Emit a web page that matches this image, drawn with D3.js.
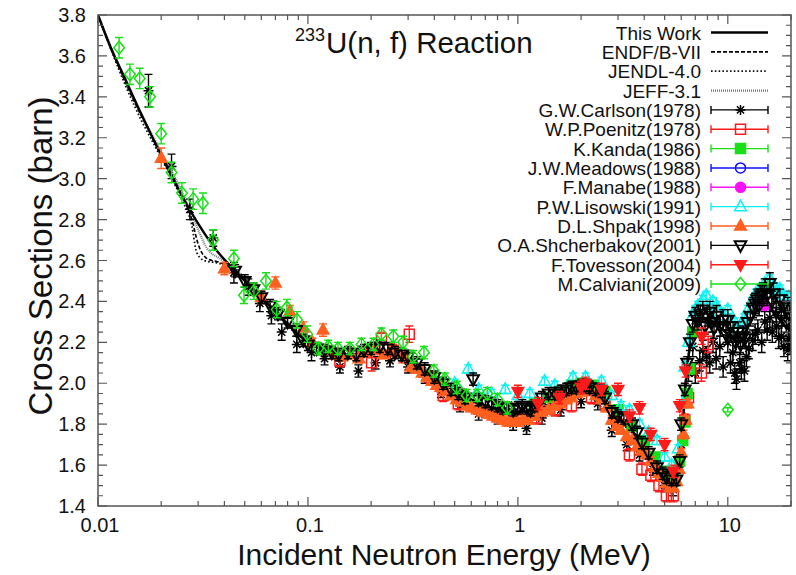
<!DOCTYPE html>
<html>
<head>
<meta charset="utf-8">
<script src="https://cdn.jsdelivr.net/npm/d3@7"></script>
<style>
    body { margin: 0; background: #fff; }
    text { font-family: "Liberation Sans", Arial, sans-serif; fill: #111; }
</style>
</head>
<body>
<svg id="chart" width="796" height="575"></svg>
<script>
/**
 * Evaluated curves: [energy (MeV), cross section (b)].
 */
const thisWork = [[0.01,3.80],[0.0115,3.64],[0.0133,3.50],[0.0155,3.35],[0.018,3.21],[0.021,3.07],[0.025,2.92],[0.03,2.78],[0.036,2.66],[0.043,2.57],[0.05,2.50],[0.06,2.42],[0.07,2.35],[0.08,2.29],[0.09,2.24],[0.1,2.20],[0.12,2.16],[0.15,2.14],[0.2,2.15],[0.25,2.15],[0.3,2.12],[0.4,2.03],[0.5,1.97],[0.6,1.92],[0.7,1.89],[0.85,1.87],[1.0,1.86],[1.2,1.87],[1.5,1.91],[1.8,1.95],[2.1,1.97],[2.5,1.94],[2.8,1.87],[3.2,1.80],[3.7,1.74],[4.2,1.67],[4.8,1.58],[5.3,1.53],[5.7,1.55],[6.0,1.72],[6.3,2.00],[6.6,2.18],[7.0,2.28],[7.6,2.32],[8.5,2.30],[9.5,2.26],[10.5,2.22],[11.5,2.20],[12.5,2.28],[13.5,2.34],[15,2.38],[16.5,2.35],[18,2.30],[20,2.25]];
const endf = [[0.01,3.80],[0.0125,3.55],[0.015,3.37],[0.02,3.12],[0.025,2.92],[0.028,2.80],[0.03,2.68],[0.033,2.61],[0.038,2.59],[0.045,2.55],[0.06,2.42],[0.08,2.29],[0.1,2.20],[0.15,2.14],[0.2,2.15],[0.3,2.11],[0.5,1.96],[0.7,1.88],[1.0,1.85],[1.5,1.90],[2.0,1.96],[2.5,1.94],[3.0,1.83],[4.0,1.69],[5.0,1.56],[5.5,1.53],[6.0,1.70],[6.5,2.12],[7.0,2.27],[8.0,2.31],[10,2.23],[12,2.25],[14,2.36],[16,2.36],[20,2.26]];
const jendl = [[0.01,3.80],[0.0125,3.54],[0.015,3.35],[0.02,3.10],[0.025,2.90],[0.028,2.77],[0.0295,2.64],[0.032,2.60],[0.038,2.585],[0.045,2.55],[0.055,2.46],[0.065,2.38],[0.08,2.28],[0.1,2.20],[0.15,2.13],[0.2,2.15],[0.3,2.12],[0.5,1.97],[0.7,1.89],[1.0,1.86],[1.5,1.91],[2.0,1.97],[2.5,1.95],[3.0,1.84],[4.0,1.70],[5.0,1.57],[5.5,1.54],[6.0,1.72],[6.5,2.15],[7.0,2.28],[8.0,2.31],[10,2.22],[12,2.24],[14,2.37],[16,2.37],[20,2.25]];
const jeff = [[0.01,3.80],[0.0125,3.56],[0.015,3.38],[0.02,3.13],[0.025,2.94],[0.03,2.75],[0.033,2.66],[0.038,2.61],[0.045,2.56],[0.06,2.43],[0.08,2.30],[0.1,2.21],[0.15,2.14],[0.2,2.15],[0.3,2.12],[0.5,1.97],[0.7,1.89],[1.0,1.86],[1.5,1.90],[2.0,1.96],[2.5,1.94],[3.0,1.84],[4.0,1.70],[5.0,1.56],[5.5,1.53],[6.0,1.71],[6.5,2.13],[7.0,2.27],[8.0,2.30],[10,2.22],[12,2.25],[14,2.36],[16,2.36],[20,2.26]];

/**
 * Measurements: [energy (MeV), cross section (b), uncertainty (b)].
 */
const carlson = [[0.0174,3.43,0.08],[0.0224,3.06,0.06],[0.0274,2.85,0.05],[0.0354,2.71,0.04],[0.0444,2.54,0.05],[0.052,2.47,0.04],[0.059,2.39,0.04],[0.067,2.33,0.04],[0.075,2.25,0.04],[0.0885,2.19,0.04],[0.104,2.15,0.04],[0.12,2.12,0.03],[0.142,2.08,0.03],[0.174,2.06,0.03],[0.21,2.10,0.03],[0.246,2.11,0.03],[0.3,2.08,0.03],[0.36,2.03,0.03],[0.43,1.96,0.03],[0.53,1.89,0.03],[0.65,1.85,0.03],[0.8,1.83,0.03],[0.95,1.80,0.03],[1.1,1.78,0.03],[1.3,1.83,0.03],[1.6,1.87,0.03],[2.0,1.91,0.03],[2.4,1.90,0.03],[2.8,1.77,0.03],[3.3,1.70,0.03],[3.8,1.65,0.03],[4.4,1.58,0.03],[5.0,1.50,0.03],[5.5,1.48,0.03],[6.0,1.70,0.04],[6.5,2.05,0.04],[6.81,2.18,0.05],[7.0,2.05,0.05],[7.35,2.11,0.05],[7.6,2.16,0.05],[7.92,2.13,0.05],[8.2,2.10,0.05],[8.5,2.20,0.05],[8.8,2.12,0.05],[9.16,2.18,0.05],[9.5,2.08,0.05],[10,2.20,0.05],[10.3,2.10,0.05],[10.57,2.15,0.05],[10.8,2.05,0.05],[11.0,2.02,0.05],[11.4,2.10,0.05],[11.6,2.07,0.05],[12.0,2.06,0.05],[12.27,2.13,0.05],[12.6,2.17,0.05],[13.15,2.21,0.05],[13.5,2.24,0.05],[13.9,2.26,0.05],[14.5,2.20,0.05],[15,2.30,0.05],[15.4,2.26,0.05],[15.85,2.32,0.05],[16.3,2.25,0.05],[17.06,2.28,0.05],[17.5,2.22,0.05],[18.0,2.23,0.05],[18.5,2.18,0.05],[19.3,2.16,0.05],[19.5,2.22,0.05],[19.8,2.19,0.05]];
const poenitz = [[0.142,2.11,0.03],[0.201,2.10,0.04],[0.224,2.22,0.03],[0.255,2.16,0.03],[0.304,2.24,0.04],[0.38,2.03,0.03],[0.441,1.94,0.03],[0.52,1.90,0.03],[1.0,1.82,0.03],[1.227,1.83,0.03],[1.5,1.87,0.03],[1.8,1.89,0.03],[2.24,1.93,0.03],[2.6,1.90,0.03],[3.0,1.80,0.03],[3.4,1.65,0.03],[3.9,1.58,0.03],[4.3,1.55,0.03],[4.7,1.50,0.03],[5.1,1.45,0.03],[5.5,1.45,0.03],[6.24,1.82,0.03],[6.5,1.93,0.03],[7.49,2.05,0.04],[8.06,2.19,0.04]];
const kanda = [[1.2,1.90,0.02],[1.4,1.93,0.02],[1.6,1.96,0.02],[1.8,1.99,0.02],[2.0,2.00,0.02],[2.3,1.99,0.02],[2.6,1.96,0.02],[3.0,1.87,0.02],[3.5,1.79,0.02],[4.0,1.72,0.02],[4.5,1.64,0.02],[5.0,1.57,0.02],[5.5,1.52,0.02],[5.9,1.62,0.02],[6.1,1.72,0.02],[6.24,1.81,0.02],[6.4,1.95,0.02],[6.6,2.07,0.02],[6.8,2.25,0.02]];
const meadows = [[14.6,2.41,0.02]];
const manabe = [[14.8,2.40,0.02],[15.0,2.38,0.02]];
const lisowski = [[0.5,2.00,0.02],[0.58,2.07,0.02],[0.65,1.97,0.02],[0.75,1.95,0.02],[0.87,1.97,0.02],[1.0,1.94,0.02],[1.14,1.95,0.02],[1.34,2.01,0.02],[1.5,1.99,0.02],[1.83,2.03,0.02],[2.1,2.03,0.02],[2.5,2.01,0.02],[2.8,1.94,0.02],[3.1,1.89,0.02],[3.4,1.87,0.02],[3.8,1.80,0.02],[4.2,1.76,0.02],[4.6,1.72,0.02],[5.0,1.64,0.02],[5.4,1.60,0.02],[5.8,1.68,0.02],[6.1,1.90,0.02],[6.24,2.08,0.02],[6.5,2.20,0.02],[6.8,2.33,0.02],[7.0,2.36,0.02],[7.2,2.38,0.02],[7.6,2.41,0.02],[7.9,2.43,0.02],[8.2,2.37,0.02],[8.5,2.40,0.02],[8.84,2.38,0.02],[9.2,2.35,0.02],[9.5,2.33,0.02],[10,2.36,0.02],[10.8,2.30,0.02],[11.2,2.27,0.02],[11.8,2.29,0.02],[12.0,2.32,0.02],[12.5,2.36,0.02],[13,2.40,0.02],[13.6,2.44,0.02],[14.2,2.46,0.02],[14.6,2.47,0.02],[15,2.49,0.02],[15.8,2.51,0.02],[16.3,2.49,0.02],[16.8,2.47,0.02],[17.2,2.45,0.02],[17.7,2.46,0.02],[18.5,2.43,0.02],[19.0,2.40,0.02],[19.5,2.42,0.02]];
const shpak = [[0.02,3.10,0.05],[0.04,2.56,0.03],[0.06,2.42,0.03],[0.07,2.49,0.03],[0.082,2.35,0.03],[0.095,2.27,0.03],[0.105,2.20,0.02],[0.118,2.26,0.03],[0.125,2.16,0.02],[0.135,2.14,0.02],[0.145,2.13,0.02],[0.16,2.14,0.02],[0.175,2.12,0.02],[0.19,2.15,0.02],[0.21,2.16,0.02],[0.23,2.14,0.02],[0.25,2.17,0.02],[0.27,2.15,0.02],[0.29,2.12,0.02],[0.31,2.08,0.02],[0.33,2.07,0.02],[0.35,2.05,0.02],[0.37,2.03,0.02],[0.39,2.01,0.02],[0.41,1.99,0.02],[0.43,1.98,0.02],[0.45,1.96,0.02],[0.48,1.94,0.02],[0.51,1.92,0.02],[0.54,1.91,0.02],[0.57,1.89,0.02],[0.6,1.88,0.02],[0.64,1.87,0.02],[0.68,1.86,0.02],[0.72,1.85,0.02],[0.76,1.84,0.02],[0.8,1.83,0.02],[0.85,1.82,0.02],[0.9,1.81,0.02],[0.95,1.81,0.02],[1.0,1.81,0.02],[1.06,1.82,0.02],[1.12,1.82,0.02],[1.2,1.84,0.02],[1.3,1.86,0.02],[1.4,1.87,0.02],[1.5,1.89,0.02],[1.6,1.90,0.02],[1.7,1.92,0.02],[1.8,1.93,0.02],[1.9,1.95,0.02],[2.0,1.96,0.02],[2.1,1.97,0.02],[2.2,1.96,0.02],[2.35,1.94,0.02],[2.5,1.92,0.02],[2.65,1.88,0.02],[2.8,1.82,0.02],[2.95,1.79,0.02],[3.1,1.77,0.02],[3.3,1.74,0.02],[3.5,1.72,0.02],[3.7,1.69,0.02],[3.9,1.67,0.02],[4.1,1.65,0.02],[4.3,1.62,0.02],[4.5,1.59,0.02],[4.7,1.56,0.02],[4.9,1.54,0.02],[5.1,1.51,0.02],[5.3,1.49,0.02],[5.5,1.49,0.02],[5.7,1.52,0.02],[5.85,1.58,0.02],[6.0,1.66,0.02],[6.15,1.75,0.02],[6.3,1.82,0.02],[6.45,1.90,0.02]];
const shcherbakov = [[0.045,2.55,0.03],[0.05,2.50,0.03],[0.055,2.46,0.03],[0.06,2.42,0.03],[0.066,2.38,0.03],[0.072,2.34,0.03],[0.08,2.30,0.03],[0.088,2.26,0.03],[0.095,2.21,0.03],[0.1,2.19,0.03],[0.11,2.17,0.03],[0.12,2.16,0.03],[0.13,2.15,0.03],[0.14,2.14,0.03],[0.155,2.15,0.03],[0.17,2.14,0.03],[0.185,2.16,0.03],[0.2,2.17,0.03],[0.22,2.18,0.03],[0.24,2.17,0.03],[0.26,2.15,0.03],[0.28,2.14,0.03],[0.3,2.13,0.03],[0.33,2.10,0.03],[0.36,2.07,0.03],[0.4,2.03,0.03],[0.44,2.00,0.03],[0.48,1.97,0.03],[0.52,1.95,0.03],[0.56,1.93,0.03],[0.612,2.02,0.03],[0.65,1.92,0.03],[0.7,1.91,0.03],[0.75,1.90,0.03],[0.8,1.89,0.03],[0.85,1.88,0.03],[0.9,1.88,0.03],[0.95,1.87,0.03],[1.0,1.88,0.03],[1.05,1.89,0.03],[1.1,1.88,0.03],[1.15,1.87,0.03],[1.2,1.89,0.03],[1.3,1.93,0.03],[1.4,1.95,0.03],[1.5,1.95,0.03],[1.6,1.96,0.03],[1.7,1.97,0.03],[1.8,1.98,0.03],[1.9,1.98,0.03],[2.0,1.99,0.03],[2.1,1.99,0.03],[2.2,1.98,0.03],[2.35,1.97,0.03],[2.5,1.96,0.03],[2.6,1.93,0.03],[2.8,1.86,0.03],[3.0,1.84,0.03],[3.2,1.83,0.03],[3.5,1.80,0.03],[3.7,1.76,0.03],[3.9,1.71,0.03],[4.2,1.66,0.03],[4.6,1.59,0.03],[4.9,1.56,0.03],[5.1,1.54,0.03],[5.4,1.53,0.03],[5.7,1.53,0.03],[5.9,1.62,0.03],[6.0,1.80,0.03],[6.24,1.97,0.03],[6.4,2.10,0.03],[6.6,2.20,0.04],[6.8,2.29,0.04],[7.0,2.33,0.04],[7.2,2.30,0.04],[7.4,2.34,0.04],[7.6,2.36,0.04],[7.8,2.28,0.04],[8.0,2.32,0.04],[8.2,2.35,0.05],[8.4,2.30,0.05],[8.6,2.27,0.05],[8.84,2.33,0.05],[9.2,2.28,0.05],[9.5,2.31,0.05],[9.8,2.24,0.05],[10,2.31,0.05],[10.3,2.28,0.05],[10.6,2.25,0.05],[10.9,2.20,0.05],[11.2,2.25,0.05],[11.5,2.19,0.05],[11.8,2.23,0.05],[12.1,2.22,0.05],[12.4,2.30,0.05],[12.8,2.33,0.05],[13.2,2.37,0.05],[13.5,2.39,0.05],[13.8,2.41,0.05],[14.1,2.38,0.05],[14.4,2.43,0.05],[14.7,2.44,0.05],[15.0,2.46,0.05],[15.4,2.43,0.05],[15.85,2.49,0.05],[16.2,2.40,0.05],[16.5,2.44,0.05],[17.0,2.35,0.05],[17.7,2.41,0.05],[18.0,2.33,0.05],[18.5,2.38,0.05],[19.0,2.30,0.05],[19.3,2.37,0.05],[19.7,2.33,0.05]];
const tovesson = [[1.0,1.96,0.03],[1.25,1.90,0.03],[1.58,1.93,0.03],[2.0,1.98,0.03],[2.1,2.00,0.03],[2.5,1.97,0.03],[3.0,1.97,0.03],[3.4,1.84,0.03],[3.8,1.88,0.03],[4.3,1.75,0.03],[5.0,1.70,0.03],[5.5,1.57,0.03],[5.9,1.89,0.03],[6.3,2.06,0.03],[7.5,2.23,0.04]];
const calviani = [[0.0126,3.64,0.05],[0.0142,3.51,0.05],[0.0158,3.49,0.05],[0.0177,3.40,0.05],[0.02,3.22,0.05],[0.0224,3.03,0.05],[0.0251,2.93,0.05],[0.0284,2.90,0.05],[0.0316,2.88,0.05],[0.0353,2.70,0.05],[0.0444,2.61,0.04],[0.0496,2.43,0.04],[0.0553,2.45,0.04],[0.0631,2.50,0.04],[0.071,2.36,0.04],[0.0794,2.37,0.04],[0.0887,2.31,0.04],[0.0992,2.24,0.04],[0.112,2.17,0.03],[0.125,2.18,0.03],[0.139,2.17,0.03],[0.1585,2.17,0.03],[0.18,2.19,0.03],[0.205,2.19,0.03],[0.224,2.24,0.03],[0.255,2.23,0.03],[0.284,2.20,0.03],[0.317,2.13,0.03],[0.357,2.15,0.03],[0.398,2.06,0.03],[0.449,2.02,0.03],[0.511,1.98,0.03],[0.57,1.94,0.03],[0.64,1.94,0.03],[0.714,1.95,0.03],[0.80,1.92,0.03],[0.89,1.88,0.03],[10.0,1.87,0.01]];

/**
 * Labels.
 */
const curveNames = ['This Work', 'ENDF/B-VII', 'JENDL-4.0', 'JEFF-3.1'];
const dataNames = ['G.W.Carlson(1978)', 'W.P.Poenitz(1978)', 'K.Kanda(1986)', 'J.W.Meadows(1988)', 'F.Manabe(1988)',
    'P.W.Lisowski(1991)', 'D.L.Shpak(1998)', 'O.A.Shcherbakov(2001)', 'F.Tovesson(2004)', 'M.Calviani(2009)'];
const xTicks = [0.01, 0.1, 1, 10];
const xTickLabels = ['0.01', '0.1', '1', '10'];
const yTicks = [1.4, 1.6, 1.8, 2.0, 2.2, 2.4, 2.6, 2.8, 3.0, 3.2, 3.4, 3.6, 3.8];

/**
 * Visual configs.
 */
const plot = { left: 98, right: 791, top: 15, bottom: 506 };
const curveStyles = [
    { stroke: '#000', width: 2.4, dash: null },
    { stroke: '#000', width: 1.6, dash: '4,2' },
    { stroke: '#111', width: 1.8, dash: '1.6,2.2' },
    { stroke: '#777', width: 2.2, dash: '1,1' }
];
// marker: symbol kind, colour, filled?
const dataStyles = [
    { kind: 'star', color: '#000', fill: false },
    { kind: 'square', color: '#ff1a1a', fill: false },
    { kind: 'square', color: '#16e016', fill: true },
    { kind: 'circle', color: '#1010ff', fill: false },
    { kind: 'circle', color: '#ff10ff', fill: true },
    { kind: 'triUp', color: '#10f0f0', fill: false },
    { kind: 'triUp', color: '#ff5f1f', fill: true },
    { kind: 'triDown', color: '#000', fill: false },
    { kind: 'triDown', color: '#ff1a1a', fill: true },
    { kind: 'diamond', color: '#16e016', fill: false }
];
const curveData = [thisWork, endf, jendl, jeff];
const seriesData = [carlson, poenitz, kanda, meadows, manabe, lisowski, shpak, shcherbakov, tovesson, calviani];

const svg = d3.select('#chart');
const xScale = d3.scaleLog().domain([0.01, 20]).range([plot.left, plot.right]);
const yScale = d3.scaleLinear().domain([1.4, 3.8]).range([plot.bottom, plot.top]);

function markerPath(kind) {
    switch (kind) {
        case 'square': return 'M-5,-5H5V5H-5Z';
        case 'triUp': return 'M0,-6.5L5.8,4L-5.8,4Z';
        case 'triDown': return 'M0,6.5L5.8,-4L-5.8,-4Z';
        case 'diamond': return 'M0,-6.5L5.3,0L0,6.5L-5.3,0Z';
        case 'star': return 'M-5,0H5M0,-5V5M-3.6,-3.6L3.6,3.6M3.6,-3.6L-3.6,3.6';
        default: return d3.symbol(d3.symbolCircle, 80)();
    }
}

function drawMarker(g, style, x, y) {
    g.append('path')
        .attr('d', markerPath(style.kind))
        .attr('transform', 'translate(' + x + ',' + y + ')')
        .attr('fill', style.fill ? style.color : 'none')
        .attr('stroke', style.color)
        .attr('stroke-width', style.kind === 'triDown' && !style.fill ? 2 : 1.5);
}

/**
 * Clip region.
 */
svg.append('clipPath').attr('id', 'clip').append('rect')
    .attr('x', plot.left).attr('y', plot.top)
    .attr('width', plot.right - plot.left).attr('height', plot.bottom - plot.top);

const inner = svg.append('g').attr('clip-path', 'url(#clip)');

// Curves
const line = d3.line().x(d => xScale(d[0])).y(d => yScale(d[1])).curve(d3.curveMonotoneX);
curveData.slice().reverse().forEach((c, i) => {
    const s = curveStyles[curveData.length - 1 - i];
    inner.append('path').attr('d', line(c)).attr('fill', 'none')
        .attr('stroke', s.stroke).attr('stroke-width', s.width)
        .attr('stroke-dasharray', s.dash);
});

// Measurements with error bars
seriesData.forEach((series, i) => {
    const style = dataStyles[i];
    const g = inner.append('g');
    series.forEach(d => {
        const x = xScale(d[0]), y0 = yScale(d[1] - d[2]), y1 = yScale(d[1] + d[2]);
        g.append('path')
            .attr('d', 'M' + x + ',' + y0 + 'V' + y1 + 'M' + (x - 4) + ',' + y0 + 'h8M' + (x - 4) + ',' + y1 + 'h8')
            .attr('stroke', style.color).attr('stroke-width', 1.4).attr('fill', 'none');
        drawMarker(g, style, x, yScale(d[1]));
    });
});

/**
 * Axes frame & ticks (all four sides, inward).
 */
const axisColor = '#555';
const frame = svg.append('g');
frame.append('rect')
    .attr('x', plot.left).attr('y', plot.top)
    .attr('width', plot.right - plot.left).attr('height', plot.bottom - plot.top)
    .attr('fill', 'none').attr('stroke', axisColor).attr('stroke-width', 1.5);

const xMinor = [];
[0.01, 0.1, 1, 10].forEach(dec => {
    for (let k = 2; k <= 9; k++) if (dec * k <= 20) xMinor.push(dec * k);
});
xMinor.forEach(v => {
    const x = xScale(v);
    frame.append('path').attr('d', 'M' + x + ',' + plot.bottom + 'v-5M' + x + ',' + plot.top + 'v5')
        .attr('stroke', axisColor).attr('stroke-width', 1.2);
});
xTicks.forEach((v, i) => {
    const x = xScale(v);
    frame.append('path').attr('d', 'M' + x + ',' + plot.bottom + 'v-9M' + x + ',' + plot.top + 'v9')
        .attr('stroke', axisColor).attr('stroke-width', 1.2);
    frame.append('text').attr('x', x + 2).attr('y', 532)
        .attr('text-anchor', 'middle').attr('font-size', 20).text(xTickLabels[i]);
});

for (let v = 1.4; v <= 3.8001; v += 0.05) {
    const y = yScale(v);
    const major = Math.abs(v * 5 - Math.round(v * 5)) < 1e-6;
    const len = major ? 9 : 5;
    frame.append('path')
        .attr('d', 'M' + plot.left + ',' + y + 'h' + len + 'M' + plot.right + ',' + y + 'h-' + len)
        .attr('stroke', axisColor).attr('stroke-width', 1.2);
}
yTicks.forEach(v => {
    frame.append('text').attr('x', 86).attr('y', yScale(v) + 7)
        .attr('text-anchor', 'end').attr('font-size', 20).text(v.toFixed(1));
});

/**
 * Titles.
 */
svg.append('text').attr('x', 444).attr('y', 565).attr('text-anchor', 'middle')
    .attr('font-size', 30).text('Incident Neutron Energy (MeV)');
svg.append('text').attr('transform', 'translate(52,256) rotate(-90)').attr('text-anchor', 'middle')
    .attr('font-size', 33).text('Cross Sections (barn)');
svg.append('text').attr('x', 295).attr('y', 41).attr('font-size', 18).text('233');
svg.append('text').attr('x', 326).attr('y', 53).attr('font-size', 29.5).text('U(n, f) Reaction');

/**
 * Legend.
 */
const legend = svg.append('g');
const rowY = i => 32.5 + i * 19.35;
const lx0 = 711, lx1 = 768;
curveNames.forEach((name, i) => {
    const s = curveStyles[i];
    legend.append('text').attr('x', 701).attr('y', rowY(i) + 7).attr('text-anchor', 'end')
        .attr('font-size', 19).text(name);
    legend.append('path').attr('d', 'M' + lx0 + ',' + rowY(i) + 'H' + lx1)
        .attr('stroke', s.stroke).attr('stroke-width', s.width).attr('stroke-dasharray', s.dash);
});
dataNames.forEach((name, j) => {
    const i = j + curveNames.length, y = rowY(i), style = dataStyles[j];
    legend.append('text').attr('x', 701).attr('y', y + 7).attr('text-anchor', 'end')
        .attr('font-size', 19).text(name);
    legend.append('path')
        .attr('d', 'M' + lx0 + ',' + y + 'H' + lx1 + 'M' + lx0 + ',' + (y - 4) + 'v8M' + lx1 + ',' + (y - 4) + 'v8')
        .attr('stroke', style.color).attr('stroke-width', 1.4);
    drawMarker(legend, style, (lx0 + lx1) / 2 + 1, y);
});
</script>
</body>
</html>
